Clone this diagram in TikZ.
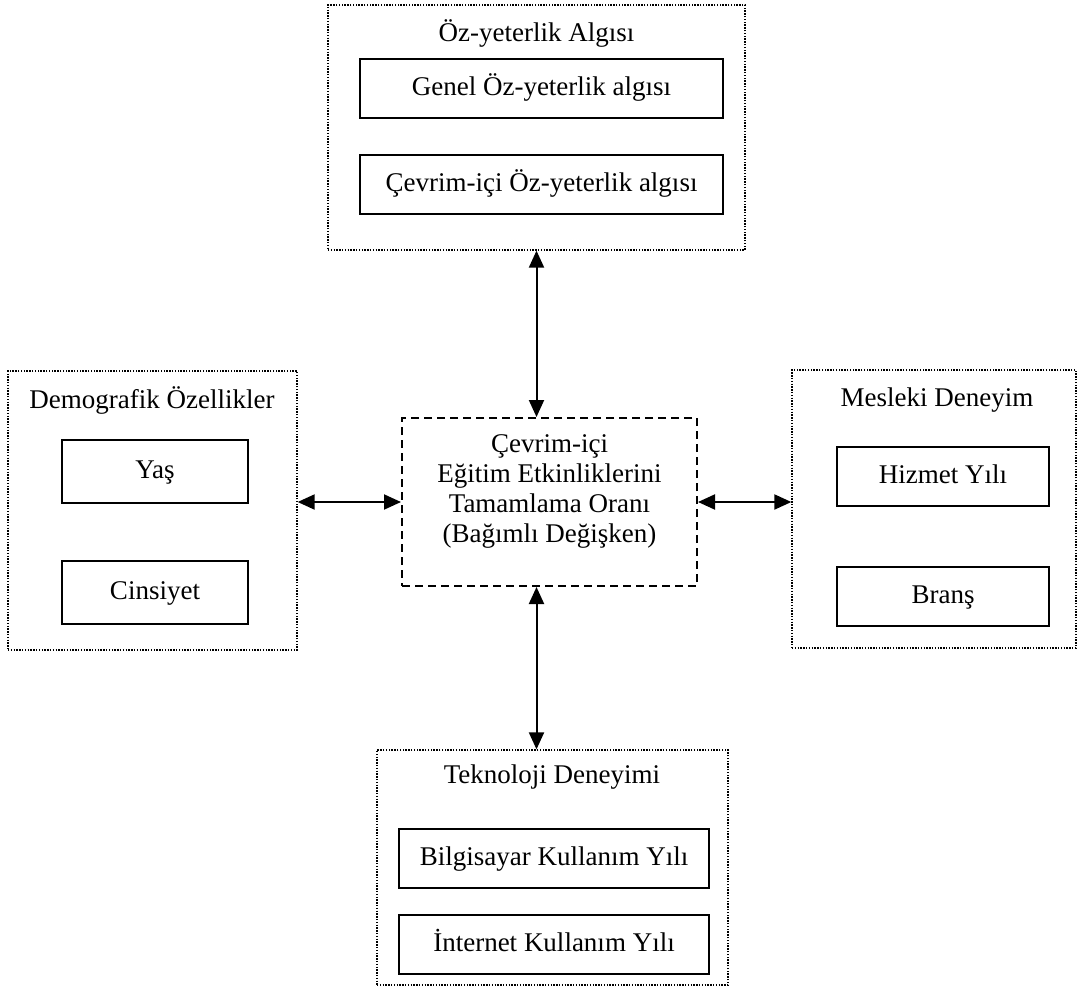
\documentclass[tikz,border=0pt]{standalone}
\usepackage{fontspec}
\setmainfont{Liberation Serif}
\usetikzlibrary{arrows.meta,positioning}

\begin{document}
\begin{tikzpicture}[x=1pt,y=-1pt,
  every node/.style={font=\fontsize{27}{30}\selectfont},
  grp/.style={draw,line width=1.3pt,dash pattern=on 1.4pt off 1.4pt,inner sep=0pt},
  item/.style={draw,line width=2pt,inner sep=0pt,minimum height=59pt,text height=19pt,text depth=6pt},
  dvbox/.style={draw,line width=2pt,dash pattern=on 8pt off 5pt,inner sep=0pt},
  both/.style={{Triangle[length=17pt,width=15pt]}-{Triangle[length=17pt,width=15pt]},line width=2pt}]
  \useasboundingbox (0,0) rectangle (1077,996);
  % oz-yeterlik
  \node[grp,minimum width=417pt,minimum height=245pt] (ozgrp) at (536.5,127.5) {};
  \node (oztitle) at (536.5,33) {Öz-yeterlik Algısı};
  \node[item,minimum width=363pt] (genel) at (541.5,88.5) {Genel Öz-yeterlik algısı};
  \node[item,minimum width=363pt] (cevrim) at (541.5,184.5) {Çevrim-içi Öz-yeterlik algısı};
  % demografik
  \node[grp,minimum width=289pt,minimum height=279pt] (demo) at (152.5,510.5) {};
  \node (demotitle) at (152,400) {Demografik Özellikler};
  \node[item,minimum width=186pt,minimum height=63pt] (yas) at (155,471.5) {Yaş};
  \node[item,minimum width=186pt,minimum height=63pt] (cins) at (155,592.5) {Cinsiyet};
  % bagimli degisken
  \node[dvbox,minimum width=295pt,minimum height=168pt] (dv) at (549.5,502) {};
  \node[align=center] (dvtext) at (549.5,491) {Çevrim-içi\\Eğitim Etkinliklerini\\Tamamlama Oranı\\(Bağımlı Değişken)};
  % mesleki
  \node[grp,minimum width=284pt,minimum height=278pt] (mesl) at (934,509) {};
  \node (mesltitle) at (937,400) {Mesleki Deneyim};
  \node[item,minimum width=212pt] (hizmet) at (943,476.5) {Hizmet Yılı};
  \node[item,minimum width=212pt] (brans) at (943,596.5) {Branş};
  % teknoloji
  \node[grp,minimum width=351pt,minimum height=235pt] (tekno) at (552.5,867.5) {};
  \node (teknotitle) at (552,777) {Teknoloji Deneyimi};
  \node[item,minimum width=310pt] (bilg) at (554,858.5) {Bilgisayar Kullanım Yılı};
  \node[item,minimum width=310pt] (inet) at (554,944.5) {İnternet Kullanım Yılı};

  \draw[both] (ozgrp.south) -- (ozgrp.south |- dv.north);
  \draw[both] (dv.west) -- (dv.west -| demo.east);
  \draw[both] (dv.east) -- (dv.east -| mesl.west);
  \draw[both] (dv.south -| ozgrp.south) -- (tekno.north -| ozgrp.south);
\end{tikzpicture}
\end{document}
